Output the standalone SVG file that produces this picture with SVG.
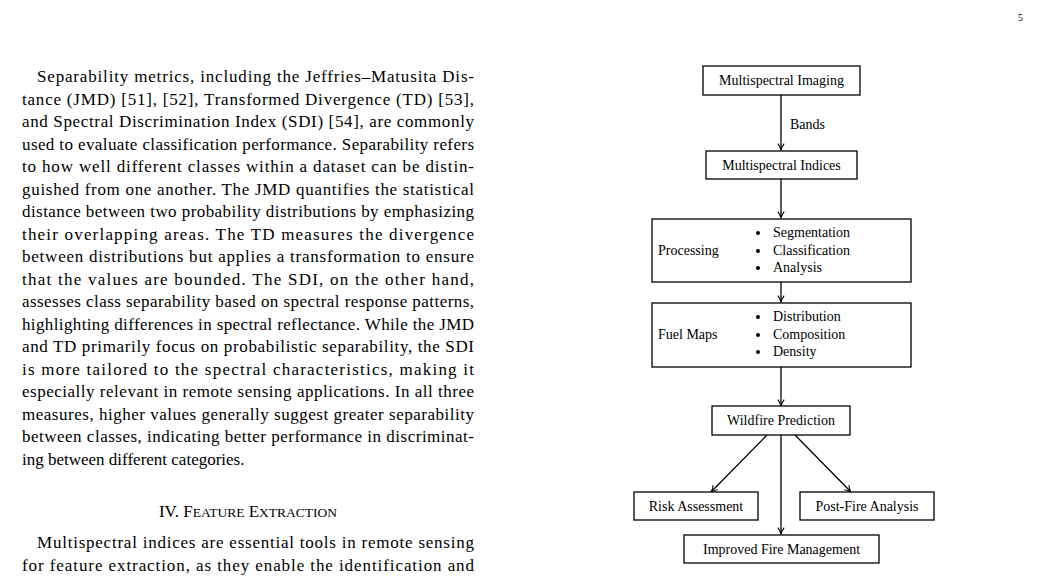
<svg xmlns="http://www.w3.org/2000/svg" width="1041" height="587" viewBox="0 0 1041 587">
<defs>
<style>
text{font-family:"Liberation Serif","Times New Roman",serif;fill:#000}
.b{font-size:17px}
.d{font-size:14px}
.box{fill:#fff;stroke:#000;stroke-width:1.3}
.e{stroke:#000;stroke-width:1.3;fill:none;marker-end:url(#ah)}
</style>
<marker id="ah" viewBox="0 0 10 10" refX="9" refY="5" markerWidth="8" markerHeight="8" orient="auto" markerUnits="userSpaceOnUse"><path d="M1,1 Q5,4 9,5 Q5,6 1,9" fill="none" stroke="#000" stroke-width="1.3"/></marker>
</defs>
<rect width="1041" height="587" fill="#fff"/>
<text x="1018" y="21" style="font-size:10px">5</text>
<g id="body" class="b">
<text x="37" y="82" textLength="437" lengthAdjust="spacing">Separability metrics, including the Jeffries–Matusita Dis-</text>
<text x="22" y="104.5" textLength="452" lengthAdjust="spacing">tance (JMD) [51], [52], Transformed Divergence (TD) [53],</text>
<text x="22" y="127" textLength="452" lengthAdjust="spacing">and Spectral Discrimination Index (SDI) [54], are commonly</text>
<text x="22" y="149.5" textLength="452" lengthAdjust="spacing">used to evaluate classification performance. Separability refers</text>
<text x="22" y="172" textLength="452" lengthAdjust="spacing">to how well different classes within a dataset can be distin-</text>
<text x="22" y="194.5" textLength="452" lengthAdjust="spacing">guished from one another. The JMD quantifies the statistical</text>
<text x="22" y="217" textLength="452" lengthAdjust="spacing">distance between two probability distributions by emphasizing</text>
<text x="22" y="239.5" textLength="452" lengthAdjust="spacing">their overlapping areas. The TD measures the divergence</text>
<text x="22" y="262" textLength="452" lengthAdjust="spacing">between distributions but applies a transformation to ensure</text>
<text x="22" y="284.5" textLength="452" lengthAdjust="spacing">that the values are bounded. The SDI, on the other hand,</text>
<text x="22" y="307" textLength="452" lengthAdjust="spacing">assesses class separability based on spectral response patterns,</text>
<text x="22" y="329.5" textLength="452" lengthAdjust="spacing">highlighting differences in spectral reflectance. While the JMD</text>
<text x="22" y="352" textLength="452" lengthAdjust="spacing">and TD primarily focus on probabilistic separability, the SDI</text>
<text x="22" y="374.5" textLength="452" lengthAdjust="spacing">is more tailored to the spectral characteristics, making it</text>
<text x="22" y="397" textLength="452" lengthAdjust="spacing">especially relevant in remote sensing applications. In all three</text>
<text x="22" y="419.5" textLength="452" lengthAdjust="spacing">measures, higher values generally suggest greater separability</text>
<text x="22" y="442" textLength="452" lengthAdjust="spacing">between classes, indicating better performance in discriminat-</text>
<text x="22" y="464.5">ing between different categories.</text>
<text x="248" y="517" text-anchor="middle">IV. F<tspan font-size="13.5">EATURE</tspan> E<tspan font-size="13.5">XTRACTION</tspan></text>
<text x="37" y="548" textLength="437" lengthAdjust="spacing">Multispectral indices are essential tools in remote sensing</text>
<text x="22" y="570.5" textLength="452" lengthAdjust="spacing">for feature extraction, as they enable the identification and</text>
</g>
<g id="connectors">
<path class="e" d="M781,95 V150"/>
<path class="e" d="M781,179 V218"/>
<path class="e" d="M781,282 V302"/>
<path class="e" d="M781,367 V406"/>
<path class="e" d="M767,435 L711,492"/>
<path class="e" d="M781,435 V534"/>
<path class="e" d="M795,435 L851,492"/>
<text class="d" x="790" y="129">Bands</text>
</g>
<g id="n1"><rect class="box" x="703" y="66" width="157" height="29"/><text class="d" x="781.5" y="85" text-anchor="middle">Multispectral Imaging</text></g>
<g id="n2"><rect class="box" x="706" y="151" width="151" height="28"/><text class="d" x="781.5" y="170" text-anchor="middle">Multispectral Indices</text></g>
<g id="n3"><rect class="box" x="652" y="219" width="259" height="63"/><text class="d" x="658" y="255">Processing</text>
<circle cx="758" cy="233" r="2"/><circle cx="758" cy="251" r="2"/><circle cx="758" cy="268" r="2"/>
<text class="d" x="773" y="237">Segmentation</text><text class="d" x="773" y="255">Classification</text><text class="d" x="773" y="272">Analysis</text></g>
<g id="n4"><rect class="box" x="652" y="303" width="259" height="64"/><text class="d" x="658" y="339">Fuel Maps</text>
<circle cx="758" cy="317" r="2"/><circle cx="758" cy="335" r="2"/><circle cx="758" cy="352" r="2"/>
<text class="d" x="773" y="321">Distribution</text><text class="d" x="773" y="339">Composition</text><text class="d" x="773" y="356">Density</text></g>
<g id="n5"><rect class="box" x="712" y="406" width="138" height="29"/><text class="d" x="781" y="425" text-anchor="middle">Wildfire Prediction</text></g>
<g id="n6"><rect class="box" x="634" y="492" width="124" height="28"/><text class="d" x="696" y="511" text-anchor="middle">Risk Assessment</text></g>
<g id="n7"><rect class="box" x="800" y="492" width="134" height="28"/><text class="d" x="867" y="511" text-anchor="middle">Post-Fire Analysis</text></g>
<g id="n8"><rect class="box" x="684" y="535" width="195" height="28"/><text class="d" x="781.5" y="554" text-anchor="middle">Improved Fire Management</text></g>
</svg>
